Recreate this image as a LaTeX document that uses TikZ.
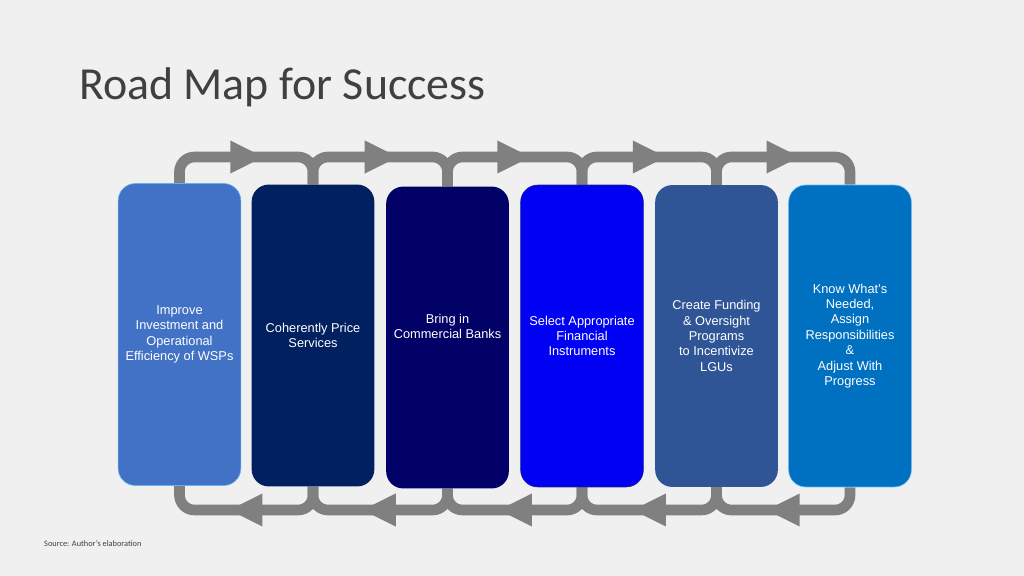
\documentclass[tikz,border=0pt]{standalone}
\usepackage{fontspec}
\setmainfont{Liberation Sans}
\newfontfamily\titlefont{Carlito}
\usetikzlibrary{backgrounds,decorations.markings}

\definecolor{slidebg}{RGB}{240,240,240}
\definecolor{titlegray}{RGB}{64,64,64}
\definecolor{loopgray}{RGB}{128,128,128}
\definecolor{boxa}{RGB}{66,114,198}
\definecolor{boxb}{RGB}{0,32,96}
\definecolor{boxc}{RGB}{0,0,102}
\definecolor{boxd}{RGB}{0,0,242}
\definecolor{boxe}{RGB}{47,85,151}
\definecolor{boxf}{RGB}{0,112,192}
\definecolor{edgelight}{RGB}{100,180,235}
\definecolor{edgedark}{RGB}{30,30,150}

\tikzset{
  stage/.style={rectangle, rounded corners=16pt, minimum width=115pt, minimum height=283pt,
    inner sep=2pt, text=white, align=center, font=\fontsize{12}{14.4}\selectfont},
  roadloop/.style={draw=loopgray, line width=10pt, rounded corners=14pt, postaction={decorate},
    decoration={markings, mark=at position 0.5 with {\fill[loopgray, sharp corners] (-15.5pt,-15.5pt) -- (15.5pt,0pt) -- (-15.5pt,15.5pt) -- cycle;}}}
}

\begin{document}
\begin{tikzpicture}[x=0.9375pt, y=-0.9375pt]
            \useasboundingbox (0,0) rectangle (1024,576);

            \node[anchor=base west, inner sep=0, text=titlegray, font=\titlefont\fontsize{43}{50}\selectfont] (title) at (79,100) {Road Map for Success};
            \node[anchor=base west, inner sep=0, text=titlegray, font=\titlefont\fontsize{7.8}{9}\selectfont] (source) at (44,546) {Source: Author’s elaboration};

            \node[stage, fill=boxa, draw=edgelight, line width=0.6pt] (b1) at (179.5,334.5) {Improve\\Investment and\\Operational\\Efficiency of WSPs};
            \node[stage, fill=boxb] (b2) at (313,335.5) {Coherently Price\\Services};
            \node[stage, fill=boxc] (b3) at (447.5,337.5) {Bring in\\Commercial Banks\\[6pt]};
            \node[stage, fill=boxd, draw=edgedark, line width=0.6pt] (b4) at (582,336) {Select Appropriate\\Financial\\Instruments};
            \node[stage, fill=boxe] (b5) at (716.5,336) {Create Funding\\\& Oversight\\Programs\\to Incentivize\\LGUs};
            \node[stage, fill=boxf, draw=edgelight, line width=0.6pt] (b6) at (850,336) {Know What’s\\Needed,\\Assign\\Responsibilities\\\&\\Adjust With\\Progress};

            \coordinate (top) at (0,157);
            \coordinate (bottom) at (0,510);

            \begin{scope}[on background layer]
            \fill[slidebg] (0,0) rectangle (1024,576);

            % forward along the top
            \draw[roadloop] (b1.north) -- (b1.north |- top) -- (b2.north |- top) -- (b2.north);
            \draw[roadloop] (b2.north) -- (b2.north |- top) -- (b3.north |- top) -- (b3.north);
            \draw[roadloop] (b3.north) -- (b3.north |- top) -- (b4.north |- top) -- (b4.north);
            \draw[roadloop] (b4.north) -- (b4.north |- top) -- (b5.north |- top) -- (b5.north);
            \draw[roadloop] (b5.north) -- (b5.north |- top) -- (b6.north |- top) -- (b6.north);

            % back along the bottom
            \draw[roadloop] (b2.south) -- (b2.south |- bottom) -- (b1.south |- bottom) -- (b1.south);
            \draw[roadloop] (b3.south) -- (b3.south |- bottom) -- (b2.south |- bottom) -- (b2.south);
            \draw[roadloop] (b4.south) -- (b4.south |- bottom) -- (b3.south |- bottom) -- (b3.south);
            \draw[roadloop] (b5.south) -- (b5.south |- bottom) -- (b4.south |- bottom) -- (b4.south);
            \draw[roadloop] (b6.south) -- (b6.south |- bottom) -- (b5.south |- bottom) -- (b5.south);
            \end{scope}
\end{tikzpicture}
\end{document}
